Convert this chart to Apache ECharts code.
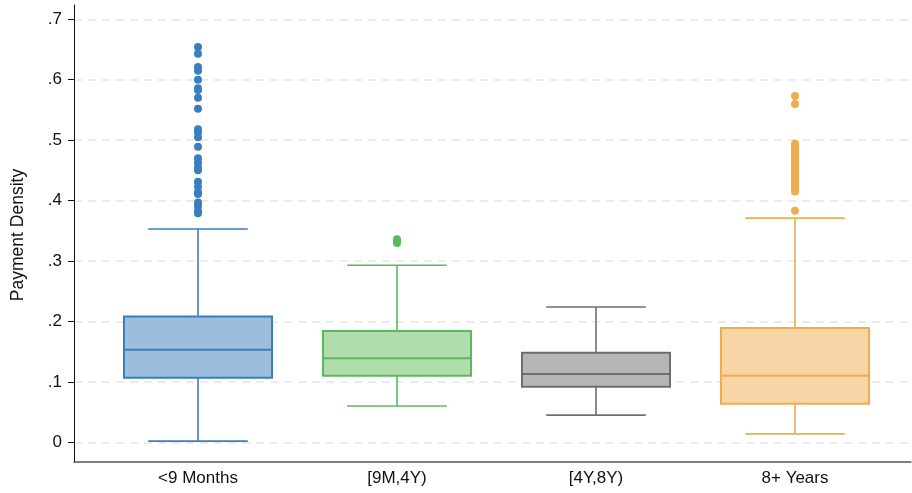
<!DOCTYPE html>
<html>
<head>
<meta charset="utf-8">
<script src="https://cdn.jsdelivr.net/npm/echarts@6/dist/echarts.min.js"></script>
<style>
  html, body { margin: 0; padding: 0; background: #fff; }
  #chart { width: 912px; height: 493px; }
</style>
</head>
<body>
<div id="chart"></div>
<script>
// Payment density by loan-age group
const categories = ['<9 Months', '[9M,4Y)', '[4Y,8Y)', '8+ Years'];

// Box statistics per group
const whiskerLow  = [0.002, 0.060, 0.045, 0.014];
const quartile1   = [0.107, 0.110, 0.092, 0.064];
const medians     = [0.153, 0.139, 0.113, 0.110];
const quartile3   = [0.208, 0.184, 0.148, 0.189];
const whiskerHigh = [0.353, 0.293, 0.224, 0.371];

// Outside values per group
const outliersUnder9M = [0.654, 0.643, 0.621, 0.615, 0.600, 0.586, 0.583, 0.570, 0.552,
  0.518, 0.513, 0.505, 0.489, 0.470, 0.463, 0.455, 0.450, 0.431, 0.423, 0.414,
  0.411, 0.397, 0.391, 0.383, 0.379];
const outliers9Mto4Y = [0.336, 0.333, 0.330];
const outliers4Yto8Y = [];
const outliers8Plus = [0.573, 0.560, 0.494, 0.489, 0.485, 0.481, 0.476, 0.472, 0.469,
  0.465, 0.461, 0.457, 0.453, 0.449, 0.445, 0.441, 0.437, 0.433, 0.429, 0.425,
  0.421, 0.418, 0.415, 0.383];

const strokeColors = ['#3a7ebf', '#5cb85c', '#6e6e6e', '#eead4e'];
const fillColors   = ['#9cbddc', '#b0ddab', '#b5b5b5', '#f8d5a6'];

const boxData = categories.map((c, i) =>
  [i, whiskerLow[i], quartile1[i], medians[i], quartile3[i], whiskerHigh[i]]);

const outlierGroups = [outliersUnder9M, outliers9Mto4Y, outliers4Yto8Y, outliers8Plus];

const chart = echarts.init(document.getElementById('chart'), null, { renderer: 'canvas' });

function renderBox(params, api) {
  const idx = api.value(0);
  const band = api.size([1, 0])[0];
  const halfBox = band * 0.372;
  const halfCap = band * 0.25;
  const pLow = api.coord([idx, api.value(1)]);
  const pQ1 = api.coord([idx, api.value(2)]);
  const pMed = api.coord([idx, api.value(3)]);
  const pQ3 = api.coord([idx, api.value(4)]);
  const pHigh = api.coord([idx, api.value(5)]);
  const x = pMed[0];
  const stroke = strokeColors[idx];
  const fill = fillColors[idx];
  const lineStyle = { stroke: stroke, lineWidth: 1.6 };
  return {
    type: 'group',
    children: [
      { type: 'line', shape: { x1: x, y1: pQ3[1], x2: x, y2: pHigh[1] }, style: lineStyle },
      { type: 'line', shape: { x1: x, y1: pQ1[1], x2: x, y2: pLow[1] }, style: lineStyle },
      { type: 'line', shape: { x1: x - halfCap, y1: pHigh[1], x2: x + halfCap, y2: pHigh[1] }, style: lineStyle },
      { type: 'line', shape: { x1: x - halfCap, y1: pLow[1], x2: x + halfCap, y2: pLow[1] }, style: lineStyle },
      { type: 'rect', shape: { x: x - halfBox, y: pQ3[1], width: halfBox * 2, height: pQ1[1] - pQ3[1] },
        style: { fill: fill, stroke: stroke, lineWidth: 2 } },
      { type: 'line', shape: { x1: x - halfBox, y1: pMed[1], x2: x + halfBox, y2: pMed[1] },
        style: { stroke: stroke, lineWidth: 2 } }
    ]
  };
}

const font = 'Liberation Sans, Arial, sans-serif';

const option = {
  backgroundColor: '#ffffff',
  animation: false,
  grid: [
    // plotting region for the boxes
    { left: 98.5, right: 17.5, top: 19.3, bottom: 50.7 },
    // outer frame (axis lines)
    { left: 74, right: 1, top: 5, bottom: 31 },
    // y ticks, labels and grid lines
    { left: 74, right: 2, top: 19.3, bottom: 50.7 }
  ],
  xAxis: [
    { gridIndex: 0, type: 'category', data: categories, boundaryGap: true,
      axisLine: { show: false }, axisTick: { show: false },
      axisLabel: { color: '#111', fontFamily: font, fontSize: 17, margin: 28 } },
    { gridIndex: 1, type: 'value', min: 0, max: 1,
      axisLine: { show: true, lineStyle: { color: '#555', width: 1.5 } },
      axisTick: { show: false }, axisLabel: { show: false }, splitLine: { show: false } },
    { gridIndex: 2, type: 'value', min: 0, max: 1, show: false }
  ],
  yAxis: [
    { gridIndex: 0, type: 'value', min: 0, max: 0.7, show: false },
    { gridIndex: 1, type: 'value', min: 0, max: 1,
      axisLine: { show: true, lineStyle: { color: '#111', width: 1 } },
      axisTick: { show: false }, axisLabel: { show: false }, splitLine: { show: false } },
    { gridIndex: 2, type: 'value', min: 0, max: 0.7, interval: 0.1,
      axisLine: { show: false },
      axisTick: { show: true, length: 6, lineStyle: { color: '#111', width: 1 } },
      axisLabel: { color: '#111', fontFamily: font, fontSize: 17, margin: 12,
        formatter: v => v === 0 ? '0' : v.toFixed(1).replace(/^0/, '') },
      splitLine: { show: true, lineStyle: { color: '#e6e6e6', width: 1.5, type: [8, 6] } } }
  ],
  graphic: [
    { type: 'text', x: 18, y: 235, rotation: Math.PI / 2,
      style: { text: 'Payment Density', fill: '#111', font: '17.5px ' + font,
        textAlign: 'center', textVerticalAlign: 'middle' } }
  ],
  series: [
    { type: 'custom', xAxisIndex: 0, yAxisIndex: 0, renderItem: renderBox,
      encode: { x: 0, y: [1, 2, 3, 4, 5] }, data: boxData, z: 3 }
  ].concat(outlierGroups.map((vals, i) => ({
    type: 'scatter', xAxisIndex: 0, yAxisIndex: 0, symbol: 'circle', symbolSize: 8,
    itemStyle: { color: strokeColors[i], opacity: 1 }, z: 4,
    data: vals.map(v => [i, v])
  })))
};

chart.setOption(option);
</script>
</body>
</html>
